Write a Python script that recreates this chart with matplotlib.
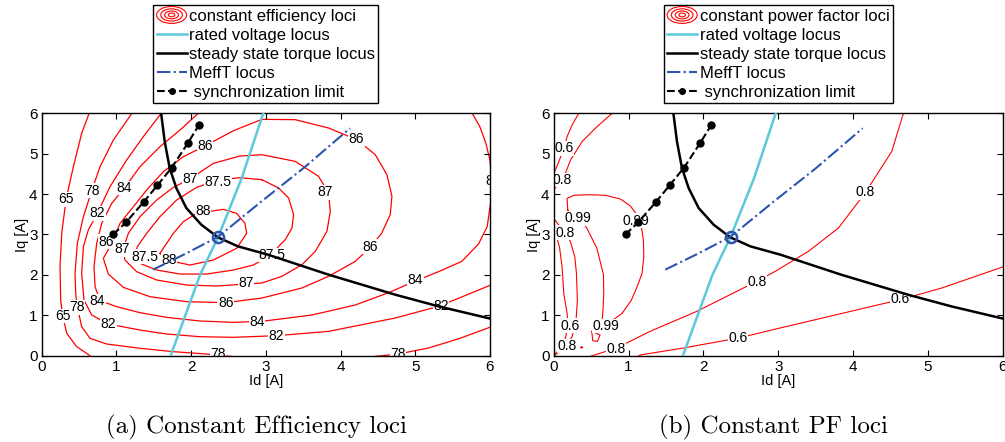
import matplotlib
matplotlib.use("Agg")
import matplotlib.pyplot as plt
from matplotlib.patches import Ellipse
from matplotlib.legend_handler import HandlerBase
from matplotlib.lines import Line2D

plt.rcParams['font.family'] = ['Liberation Sans', 'DejaVu Sans']

# ----------------------------------------------------------------------
# loci shared by both panels (Id [A], Iq [A])
# ----------------------------------------------------------------------
volt_id = [1.726, 2.12, 2.364, 2.676, 2.966, 2.99]
volt_iq = [0.0, 2.0, 2.946, 4.39, 6.0, 6.1]

torque_id = [1.595, 1.601, 1.646, 1.713, 1.802, 1.936, 2.136, 2.359, 2.627,
             3.029, 3.840, 4.732, 5.312, 6.026]
torque_iq = [6.05, 5.965, 5.305, 4.645, 4.150, 3.655, 3.243, 2.929, 2.706,
             2.500, 2.005, 1.510, 1.221, 0.908]

mefft_id = [1.490, 1.918, 2.364, 2.949, 3.507, 4.127]
mefft_iq = [2.129, 2.517, 2.946, 3.829, 4.646, 5.629]

sync_id = [0.959, 1.128, 1.369, 1.548, 1.740, 1.954, 2.105]
sync_iq = [3.003, 3.300, 3.812, 4.216, 4.653, 5.256, 5.710]

op_id, op_iq = 2.364, 2.946

# ----------------------------------------------------------------------
# constant efficiency loci [%]
# ----------------------------------------------------------------------
eff_88 = [(1.583, 2.533), (1.762, 3.028), (1.896, 3.317), (2.074, 3.523),
          (2.431, 3.622), (2.609, 3.523), (2.721, 3.276), (2.743, 3.028),
          (2.609, 2.657), (2.297, 2.368), (1.985, 2.244), (1.673, 2.368),
          (1.583, 2.533)]
eff_875 = [(2.948, 4.356), (3.171, 4.150), (3.305, 3.903), (3.372, 3.490),
           (3.350, 3.160), (3.260, 2.871), (3.171, 2.706), (3.082, 2.500),
           (2.832, 2.244), (2.565, 2.120), (2.208, 2.021), (1.851, 2.021),
           (1.539, 2.120), (1.316, 2.285), (1.249, 2.450), (1.280, 2.698),
           (1.405, 3.028), (1.583, 3.441), (1.806, 3.853), (2.074, 4.167),
           (2.364, 4.348), (2.654, 4.406), (2.948, 4.356)]
eff_87 = [(1.985, 4.373), (2.297, 4.761), (2.654, 4.942), (2.948, 4.975),
          (3.394, 4.810), (3.706, 4.439), (3.840, 4.026), (3.863, 3.573),
          (3.818, 3.078), (3.662, 2.582), (3.484, 2.252), (3.216, 1.964),
          (2.948, 1.799), (2.734, 1.774), (2.342, 1.724), (1.940, 1.749),
          (1.539, 1.873), (1.271, 2.079), (1.115, 2.368), (1.088, 2.624),
          (1.160, 3.028), (1.316, 3.441), (1.539, 3.853), (1.762, 4.167),
          (1.985, 4.373)]
eff_86 = [(0.941, 2.789), (1.048, 3.276), (1.227, 3.688), (1.405, 4.101),
          (1.628, 4.554), (1.896, 4.926), (2.186, 5.190), (2.565, 5.569),
          (2.948, 5.850), (3.394, 5.842), (3.840, 5.635), (4.219, 5.347),
          (4.465, 4.975), (4.621, 4.480), (4.688, 3.944), (4.665, 3.490),
          (4.550, 3.028), (4.398, 2.682), (4.197, 2.335), (3.840, 1.964),
          (3.483, 1.675), (2.948, 1.427), (2.462, 1.312), (1.940, 1.337),
          (1.450, 1.460), (1.093, 1.691), (0.892, 2.021), (0.825, 2.409),
          (0.941, 2.789)]
eff_84 = [(5.758, 6.015), (5.865, 5.668), (5.946, 5.256), (5.999, 4.843),
          (6.026, 4.315), (6.008, 3.771), (5.963, 3.193), (5.847, 2.764),
          (5.624, 2.335), (5.312, 2.079), (5.000, 1.848), (4.643, 1.559),
          (4.197, 1.254), (3.617, 1.007), (2.948, 0.850), (2.565, 0.825),
          (2.119, 0.858), (1.673, 0.949), (1.316, 1.064), (1.004, 1.213),
          (0.781, 1.361), (0.714, 1.708), (0.700, 2.203), (0.736, 2.781),
          (0.803, 3.276), (0.937, 3.771), (1.106, 4.150), (1.316, 4.678),
          (1.583, 5.173), (1.851, 5.586), (2.105, 6.015)]
eff_82 = [(6.044, 1.774), (5.687, 1.502), (5.312, 1.221), (4.732, 0.932),
          (3.840, 0.602), (3.149, 0.495), (2.565, 0.454), (2.119, 0.470),
          (1.673, 0.536), (1.316, 0.635), (0.892, 0.784), (0.669, 1.007),
          (0.566, 1.378), (0.535, 2.038), (0.558, 2.698), (0.624, 3.111),
          (0.745, 3.523), (0.914, 4.183), (1.137, 4.843), (1.360, 5.421),
          (1.606, 6.015)]
eff_78 = [(1.213, 6.015), (0.959, 5.338), (0.781, 4.678), (0.669, 4.084),
          (0.558, 3.441), (0.477, 2.781), (0.446, 2.038), (0.455, 1.543),
          (0.477, 1.205), (0.535, 0.718), (0.647, 0.429), (0.870, 0.289),
          (1.316, 0.182), (1.762, 0.099), (2.208, 0.041), (2.565, -0.025),
          (3.234, -0.149), (3.903, -0.149), (4.349, -0.041), (4.772, 0.041),
          (5.178, 0.190), (5.598, 0.429), (6.044, 0.734)]
eff_65 = [(0.638, 6.015), (0.535, 5.503), (0.424, 4.678), (0.326, 3.870),
          (0.268, 3.028), (0.245, 2.203), (0.254, 1.378), (0.281, 0.982),
          (0.335, 0.553), (0.468, 0.223), (0.647, 0.0), (0.781, -0.19)]

eff_labels = [("65", 0.326, 3.870), ("78", 0.669, 4.084), ("84", 1.106, 4.150),
              ("82", 0.745, 3.523), ("86", 2.186, 5.190), ("87", 1.985, 4.373),
              ("87.5", 2.364, 4.307), ("88", 2.163, 3.581), ("86", 4.215, 5.355),
              ("87", 3.796, 4.043), ("86", 0.86, 2.82), ("87", 1.08, 2.63),
              ("87.5", 1.38, 2.45), ("88", 1.70, 2.36), ("87.5", 3.078, 2.492),
              ("86", 4.393, 2.698), ("87", 2.734, 1.807), ("84", 5.004, 1.873),
              ("82", 5.343, 1.229), ("86", 2.462, 1.312), ("84", 2.886, 0.833),
              ("82", 3.145, 0.487), ("78", 2.364, 0.041), ("78", 4.772, 0.041),
              ("65", 0.281, 0.982), ("78", 0.468, 1.196), ("84", 0.745, 1.345),
              ("82", 0.892, 0.784)]
# the right-edge label that is cut by the frame
eff_edge_label = ("84", 5.94, 4.32)

# ----------------------------------------------------------------------
# constant power factor loci
# ----------------------------------------------------------------------
pf_06_top = [(0.36, 6.1), (0.334, 6.0), (0.245, 5.71), (0.178, 5.42),
             (0.134, 5.13), (0.067, 4.80), (0.022, 4.60), (-0.02, 4.45)]
pf_08_top = [(0.80, 6.1), (0.780, 6.0), (0.579, 5.67), (0.379, 5.30),
             (0.223, 4.84), (0.147, 4.47), (0.111, 4.35), (0.013, 4.14),
             (-0.02, 4.08)]
pf_099 = [(0.187, 3.606), (0.178, 3.894), (0.267, 3.969), (0.468, 3.985),
          (0.690, 3.969), (0.891, 3.878), (1.024, 3.705), (1.114, 3.482),
          (1.171, 3.193), (1.198, 2.863), (1.203, 2.450), (1.180, 2.038),
          (1.114, 1.708), (1.038, 1.378), (0.913, 1.048), (0.815, 0.916),
          (0.704, 0.734), (0.646, 0.883), (0.655, 1.048), (0.668, 1.510),
          (0.664, 2.005), (0.575, 2.665), (0.441, 3.160), (0.330, 3.408),
          (0.223, 3.523), (0.187, 3.606)]
pf_099_island = [(0.508, 0.602), (0.619, 0.512), (0.584, 0.355),
                 (0.521, 0.371), (0.508, 0.602)]
pf_08_island = [(0.36, 0.206), (0.374, 0.222), (0.388, 0.206),
                (0.374, 0.190), (0.36, 0.206)]
pf_06_left = [(-0.02, 3.2), (0.009, 3.11), (0.076, 2.70), (0.111, 2.20),
              (0.134, 1.54), (0.178, 1.05), (0.192, 0.76), (0.156, 0.43),
              (0.067, 0.14), (0.0, 0.0)]
pf_08_left = [(-0.02, 3.42), (0.0, 3.40), (0.067, 3.234), (0.147, 3.045),
              (0.223, 2.822), (0.281, 2.450), (0.303, 2.038), (0.316, 1.378),
              (0.298, 0.883), (0.245, 0.47), (0.169, 0.248), (0.067, 0.083),
              (0.0, 0.0)]
pf_08_main = [(0.45, -0.05), (0.486, -0.017), (0.842, 0.19), (1.287, 0.602),
              (1.911, 1.097), (2.713, 1.840), (2.958, 2.087), (3.403, 2.583),
              (3.804, 3.160), (4.160, 4.026), (4.517, 5.058), (4.673, 6.007)]
pf_06_main = [(1.12, -0.02), (1.154, 0.017), (1.733, 0.19), (2.468, 0.437),
              (3.024, 0.685), (4.628, 1.386), (5.185, 1.675), (6.02, 2.21)]

pf_labels = [("0.6", 0.134, 5.132), ("0.8", 0.111, 4.348), ("0.99", 0.325, 3.399),
             ("0.8", 0.147, 3.045), ("0.99", 1.091, 3.342), ("0.8", 4.156, 4.043),
             ("0.8", 2.717, 1.823), ("0.6", 4.624, 1.394), ("0.6", 0.223, 0.743),
             ("0.99", 0.690, 0.734), ("0.8", 0.178, 0.239), ("0.8", 0.837, 0.165),
             ("0.6", 2.463, 0.437)]

eff_contours = [eff_88, eff_875, eff_87, eff_86, eff_84, eff_82, eff_78, eff_65]
pf_contours = [pf_06_top, pf_08_top, pf_099, pf_099_island, pf_08_island,
               pf_06_left, pf_08_left, pf_08_main, pf_06_main]

CYAN = "#5cc8dc"
BLUE = "#2d55b0"


class ContourIcon(HandlerBase):
    """concentric red ellipses, like the MATLAB contour legend icon"""
    def create_artists(self, legend, orig_handle, xdescent, ydescent,
                       width, height, fontsize, trans):
        cx = width / 2 - xdescent
        cy = height / 2 - ydescent
        arts = []
        for f in (1.0, 0.72, 0.46, 0.22):
            arts.append(Ellipse((cx, cy), width * f, height * 1.45 * f,
                                fill=False, edgecolor="red", lw=0.8,
                                transform=trans))
        return arts


def draw_panel(ax, contours, labels, clw, first_label, edge_label=None):
    for pts in contours:
        x, y = zip(*pts)
        ax.plot(x, y, color="red", lw=clw, zorder=1)
    for txt, x, y in labels:
        ax.text(x, y, txt, ha="center", va="center", fontsize=10, zorder=2,
                bbox=dict(fc="white", ec="none", pad=0.3), clip_on=True)
    if edge_label:
        txt, x, y = edge_label
        ax.text(x, y, txt, ha="left", va="center", fontsize=10, zorder=2,
                clip_on=True)

    ax.plot(volt_id, volt_iq, color=CYAN, lw=1.8, zorder=3)
    ax.plot(torque_id, torque_iq, color="black", lw=1.8, zorder=3)
    ax.plot(mefft_id, mefft_iq, color=BLUE, lw=1.5, ls="-.", zorder=3)
    ax.plot(sync_id, sync_iq, color="black", lw=1.5, ls="--", marker="o",
            ms=5, zorder=4)
    ax.plot(op_id, op_iq, marker="o", ms=8, mfc="none", mec=BLUE, mew=1.8,
            zorder=5)

    ax.set_xlim(0, 6)
    ax.set_ylim(0, 6)
    ax.set_xticks(range(7))
    ax.set_yticks(range(7))
    ax.tick_params(direction="in", length=4, top=True, right=True,
                   labelsize=11, pad=3)
    for s in ax.spines.values():
        s.set_linewidth(1.0)
    ax.set_xlabel("Id [A]", fontsize=10.5, labelpad=0)
    ax.set_ylabel("Iq [A]", fontsize=10.5, labelpad=0)

    cont = Line2D([], [])
    handles = [
        cont,
        Line2D([], [], color=CYAN, lw=1.8),
        Line2D([], [], color="black", lw=1.8),
        Line2D([], [], color=BLUE, lw=1.5, ls="-."),
        Line2D([], [], color="black", lw=1.5, ls="--", marker="o", ms=4),
    ]
    names = [first_label, "rated voltage locus", "steady state torque locus",
             "MeffT locus", " synchronization limit"]
    leg = ax.legend(handles, names, loc="lower center",
                    bbox_to_anchor=(0.5, 1.042), borderaxespad=0,
                    fontsize=12, labelspacing=0.24, borderpad=0.2,
                    handlelength=1.8, handletextpad=0.15, fancybox=False,
                    framealpha=1, edgecolor="black",
                    handler_map={cont: ContourIcon()})
    leg.get_frame().set_linewidth(1.0)


fig = plt.figure(figsize=(10.05, 4.42), dpi=100)
ax1 = fig.add_axes([0.0415, 0.1953, 0.446, 0.5484])
ax2 = fig.add_axes([0.551, 0.1953, 0.4468, 0.5484])

draw_panel(ax1, eff_contours, eff_labels, 0.9, "constant efficiency loci",
           eff_edge_label)
draw_panel(ax2, pf_contours, pf_labels, 0.8, "constant power factor loci")

fig.text(0.255, 0.034, "(a) Constant Efficiency loci", family="cmr10",
         fontsize=18, ha="center", va="center")
fig.text(0.770, 0.034, "(b) Constant PF loci", family="cmr10",
         fontsize=18, ha="center", va="center")

fig.savefig("out.png", dpi=100)
